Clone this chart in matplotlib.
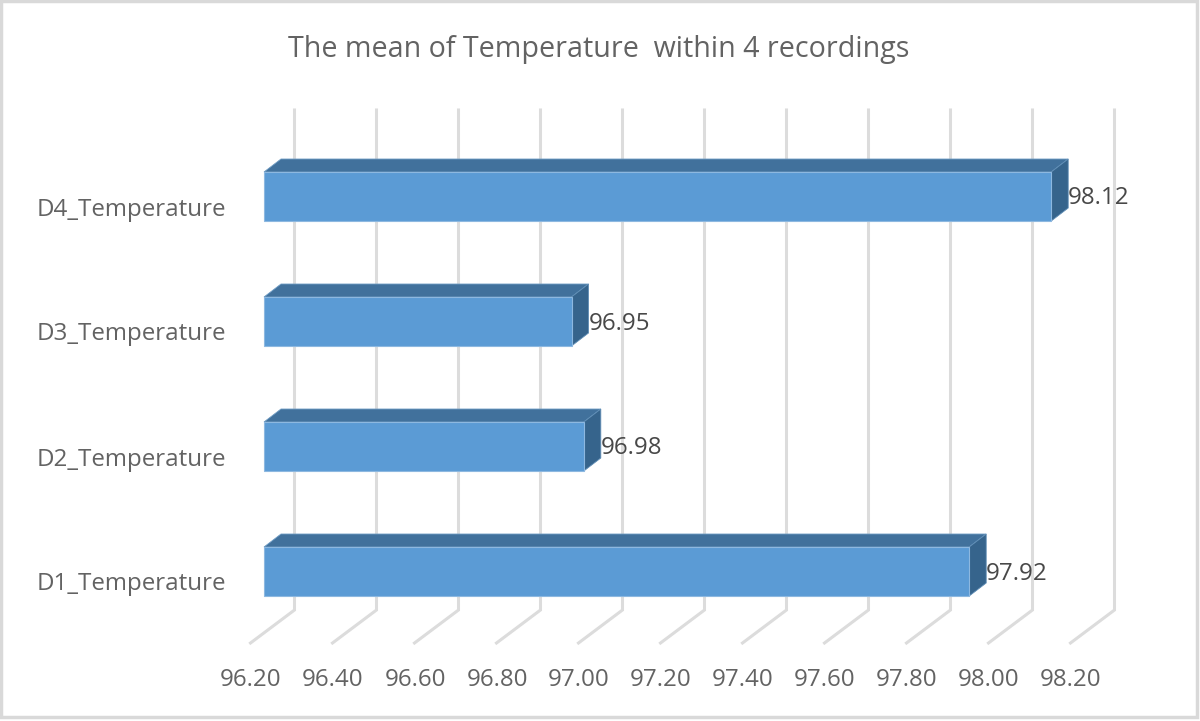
import matplotlib
matplotlib.use("Agg")
import matplotlib.pyplot as plt
from matplotlib.patches import Polygon, Rectangle

categories = ["D1_Temperature", "D2_Temperature", "D3_Temperature", "D4_Temperature"]
values = [97.92, 96.98, 96.95, 98.12]
ticks = [96.2, 96.4, 96.6, 96.8, 97.0, 97.2, 97.4, 97.6, 97.8, 98.0, 98.2]
title = "The mean of Temperature  within 4 recordings"

W, H = 1200, 721
plt.rcParams["font.family"] = ["Open Sans", "DejaVu Sans"]

fig = plt.figure(figsize=(W / 100, H / 100), dpi=100)
# axes: 96.2-98.2 runs over 264-1084 px, the four bands over y 134-634 px
ax = fig.add_axes([264 / W, 1 - 634 / H, 820 / W, 500 / H])
ax.set_xlim(96.2, 98.2)
ax.set_ylim(-0.5, 3.5)
ax.axis("off")

# pixel sizes to data units
ux = 2.0 / 820
uy = 4.0 / 500

# gridlines on the back wall and floor
for t in ticks:
    xs = [t + 30.5 * ux, t + 30.5 * ux, t - 13.5 * ux]
    ys = [-0.5 + 524 * uy, -0.5 + 24 * uy, -0.5 - 9 * uy]
    ax.plot(xs, ys, color="#dcdcdc", lw=2.2, clip_on=False, solid_joinstyle="miter", zorder=1)
    ax.text(t - 13 * ux, -0.5 - 46 * uy, f"{t:.2f}", ha="center", va="center",
            fontsize=17.4, color="#636363", clip_on=False)

# bars, front + top + side faces
dx = 17 * ux
dy = 13 * uy
bh = 49 * uy
for i, (c, v) in enumerate(zip(categories, values)):
    y0 = i - bh / 2
    y1 = i + bh / 2
    ax.add_patch(Rectangle((96.2, y0), v - 96.2, bh, fc="#5b9bd5", ec="#8db8e0", lw=0.8, zorder=3, clip_on=False))
    ax.add_patch(Polygon([(96.2, y1), (96.2 + dx, y1 + dy), (v + dx, y1 + dy), (v, y1)],
                         fc="#41719c", ec="#6f9cc4", lw=0.6, zorder=2, clip_on=False))
    ax.add_patch(Polygon([(v, y0), (v, y1), (v + dx, y1 + dy), (v + dx, y0 + dy)],
                         fc="#36648c", ec="#5f8db5", lw=0.6, zorder=2, clip_on=False))
    ax.text(v + dx, i - 2 * uy, f"{v:.2f}", ha="left", va="center",
            fontsize=17.4, color="#484848", clip_on=False, zorder=4)
    ax.text(96.2 - 38 * ux, i - 13 * uy, c, ha="right", va="center",
            fontsize=17.4, color="#636363", clip_on=False)

fig.text(599 / W, 1 - 49 / H, title, ha="center", va="center", fontsize=20.6, color="#636363")

# chart frame
fig.add_artist(Rectangle((1 / W, 4 / H), (W - 4) / W, (H - 5) / H, transform=fig.transFigure,
                         fill=False, ec="#d9d9d9", lw=2.5))

fig.savefig("out.png", dpi=100)
